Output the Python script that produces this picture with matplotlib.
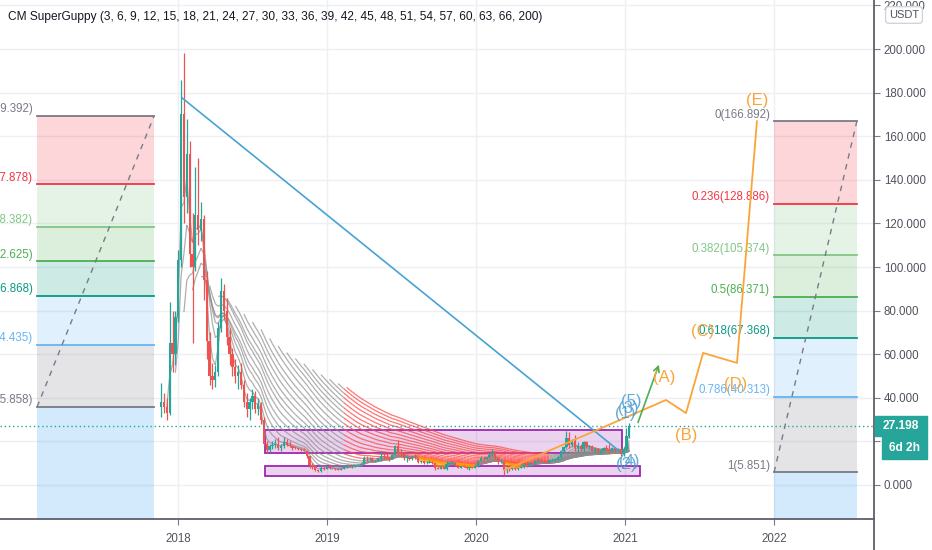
import matplotlib.pyplot as plt
import matplotlib.dates as mdates
import numpy as np
import pandas as pd
from matplotlib.collections import LineCollection
from matplotlib.patches import Rectangle
from matplotlib.lines import Line2D
from matplotlib.ticker import FormatStrFormatter

plt.rcParams['font.family'] = ['Liberation Sans', 'DejaVu Sans']

# weekly candles, first bar on 2017-11-20; open of each bar = previous close
first_week = '2017-11-20'
first_open = 36
closes = [
    38, 36, 33, 65, 60, 77, 103, 170, 132, 152,
    106, 100, 124, 117, 122, 94, 66, 50, 48, 52,
    72, 89, 80, 68, 60, 54, 50, 52, 46, 38,
    35, 38, 41, 35, 37, 30, 19, 16, 18, 18.5,
    19, 17, 18, 19.5, 18.5, 18, 17.2, 17, 16.5, 16.2,
    15.8, 13.2, 9, 8.5, 6.8, 6.2, 8, 7.4, 8.3, 7.6,
    7.6, 7.3, 7.1, 7.5, 8.1, 8.6, 8.5, 8.8, 9.0, 9.1,
    9.8, 12.5, 12.2, 12.6, 10.8, 11.2, 12.2, 13.5, 12.8, 12.6,
    11.9, 13.9, 18, 15, 14.3, 12.3, 12.6, 11.8, 12.8, 12.4,
    10.6, 10.9, 9.9, 10.3, 10.6, 10.1, 7.6, 7.5, 8.1, 7.5,
    9.6, 10.1, 10.2, 9.3, 8.0, 8.6, 8.3, 7.8, 8.1, 7.8,
    8.6, 11, 12.5, 11.8, 12.7, 13.9, 14.5, 12.5, 10.4, 10.7,
    6.8, 7.3, 7.2, 7.9, 7.5, 7.9, 8.2, 9.3, 9.1, 10,
    9.9, 11.2, 11.6, 10.8, 10.7, 10.5, 11.3, 11.4, 11.6, 12.9,
    15.6, 17.5, 21.5, 18.4, 20.1, 17.2, 17.9, 16.3, 19.6, 17.6,
    17.8, 15.8, 16.5, 14.9, 15.6, 16.8, 16.2, 15.7, 16.9, 15.9,
    16.3, 14.2, 16.4, 22.6, 27.198]
highs = [
    47, 42, 40, 84, 80, 80, 108, 186, 198, 168,
    158, 125, 146, 150, 130, 124, 98, 70, 56, 55,
    75, 95, 92, 86, 72, 63, 58, 55, 56, 48,
    42, 40, 44, 43, 40, 38, 31, 20, 19, 20,
    21, 22, 19, 22, 21, 20, 18.5, 18, 17.5, 17,
    17, 16, 13.5, 10, 8.8, 7, 8.5, 8.6, 8.5, 8.9,
    8, 7.8, 7.8, 7.6, 8.5, 9.6, 9, 9, 9.3, 9.5,
    10, 13.5, 13.2, 13, 13, 11.5, 13, 15.5, 14.5, 14,
    13, 14.5, 18.5, 20.5, 16.5, 15, 13, 13, 13.4, 14,
    12.5, 11.2, 11.1, 11, 11.3, 11, 10.2, 8.2, 8.4, 8.2,
    11, 10.6, 11, 10.4, 9.4, 8.9, 9, 8.5, 8.4, 8.4,
    8.8, 11.5, 13.4, 12.8, 13, 14.5, 16.5, 15.5, 12.9, 11.3,
    11, 7.8, 7.9, 8.2, 8.4, 8, 8.5, 9.8, 10.5, 10.3,
    10.5, 11.5, 12.4, 12, 11.4, 11.2, 11.6, 12.2, 12.2, 13.5,
    16, 18, 25, 24.5, 21, 23, 19.5, 18.8, 20, 20.2,
    18.5, 18.2, 17, 16.8, 16, 17.5, 18.3, 19, 17.5, 17,
    17.2, 16.8, 17.5, 26, 28.6]
lows = [
    31, 33, 30, 32, 52, 55, 75, 100, 120, 125,
    100, 65, 98, 110, 112, 85, 58, 46, 44, 45,
    50, 70, 76, 64, 55, 50, 47, 44, 44, 36,
    31, 30, 35, 33, 32, 28, 18, 14.7, 15, 16.5,
    17, 16, 15.5, 17, 18, 17.5, 16, 16.5, 16, 15.8,
    15.5, 12.5, 8, 7.5, 6.5, 5.85, 6, 7, 7.2, 7.2,
    7.3, 7, 6.8, 6.9, 7.3, 7.8, 8.1, 8, 8.4, 8.6,
    8.8, 9.7, 11.2, 11.5, 10.5, 10.4, 10.8, 11, 12, 11.8,
    11, 11.8, 13.5, 13.5, 13, 11.5, 10.5, 11.4, 11.6, 12,
    10, 10.2, 9.6, 9.7, 10, 9.8, 7, 7.2, 7.2, 7.3,
    7.1, 9.2, 9.6, 9.1, 7.6, 7.8, 8.1, 7.5, 7, 7.6,
    7.6, 8.4, 10.8, 11, 11.5, 12.3, 13, 11.8, 9.8, 9.9,
    4.8, 5.7, 6.5, 6.8, 7.1, 7, 7.6, 8, 8.3, 8.6,
    9.4, 9.3, 10.7, 10.4, 10.2, 9.9, 10.2, 11, 10.9, 11.4,
    11.8, 15, 17, 17, 17.5, 15.5, 15, 15.8, 15, 17,
    16.5, 15.4, 15, 14, 14.2, 15.3, 15.7, 14.5, 15.6, 15.3,
    15.6, 13.5, 13.2, 15.5, 21.5]
current_price = 27.198

guppy_fast = [3, 6, 9, 12, 15, 18, 21]
guppy_slow = [24, 27, 30, 33, 36, 39, 42, 45, 48, 51, 54, 57, 60, 63, 66]
guppy_long = [200]

# fib levels as printed on the chart (the 1.618 band runs off the bottom)
fib_ratios = ['0', '0.236', '0.382', '0.5', '0.618', '0.786', '1']
fib_colors = ['#787b86', '#f23645', '#81c784', '#4caf50', '#089981',
              '#64b5f6', '#787b86', '#2196f3']
left_fib_dates = ('2017-01-20', '2017-11-03')
left_fib_prices = [169.392, 137.878, 118.382, 102.625, 86.868, 64.435, 35.858]
right_fib_dates = ('2022-01-01', '2022-07-23')
right_fib_prices = [166.892, 128.886, 105.374, 86.371, 67.368, 40.313, 5.851]

trend_dates = ['2018-01-11', '2020-12-14']
trend_prices = [177.5, 16.1]

wave_dates = ['2020-03-12', '2021-04-11', '2021-05-30', '2021-07-11',
              '2021-10-02', '2021-11-20']
wave_prices = [6.9, 39.0, 33.0, 60.6, 56.0, 166.892]
wave_labels = [('(A)', '2021-04-06', 49.1), ('(B)', '2021-05-30', 22.5),
               ('(C)', '2021-07-09', 70.6), ('(D)', '2021-09-29', 45.9),
               ('(E)', '2021-11-20', 176.6)]
impulse_labels = [('(1)', '2020-12-31', 32.6), ('(3)', '2021-01-08', 35.3),
                  ('(5)', '2021-01-15', 38.5), ('(2)', '2021-01-03', 9.2),
                  ('(4)', '2021-01-10', 10.6)]
arrow_start = ('2021-01-30', 27.5)
arrow_end = ('2021-03-27', 56.4)

boxes = [('2018-08-02', '2020-12-24', 14.7, 25.2),
         ('2018-08-02', '2021-02-06', 4.1, 8.7)]

years = [2018, 2019, 2020, 2021, 2022]

d2n = mdates.datestr2num

fig = plt.figure(figsize=(9.32, 5.5), dpi=100)
ax = fig.add_axes([0, 31 / 550, 874 / 932, 519 / 550])

c = np.array(closes, dtype=float)
h = np.array(highs, dtype=float)
lo = np.array(lows, dtype=float)
o = np.r_[first_open, c[:-1]]
h = np.maximum(h, np.maximum(o, c))
lo = np.minimum(lo, np.minimum(o, c))
x = mdates.date2num(pd.date_range(first_week, periods=len(c), freq='7D'))


def pine_ema(src, n):
    out = np.full(len(src), np.nan)
    if len(src) >= n:
        out[n - 1] = src[:n].mean()
        a = 2 / (n + 1)
        for i in range(n, len(src)):
            out[i] = a * src[i] + (1 - a) * out[i - 1]
    return out


fast = np.array([pine_ema(c, n) for n in guppy_fast])
slow = np.array([pine_ema(c, n) for n in guppy_slow])
with np.errstate(invalid='ignore'):
    fast_up = np.all(fast[:-1] > fast[1:], axis=0)
    fast_dn = np.all(fast[:-1] < fast[1:], axis=0)
    slow_up = np.all(slow[:-1] > slow[1:], axis=0)
    slow_dn = np.all(slow[:-1] < slow[1:], axis=0)
col_fast = np.where(fast_up & slow_up, 'aqua', np.where(fast_dn & slow_dn, 'orange', 'gray'))
col_slow = np.where(slow_dn, 'red', np.where(slow_up, 'lime', 'gray'))
rgba = {'gray': (0.55, 0.55, 0.55, 0.7), 'red': (1.0, 0.3, 0.3, 0.8),
        'orange': (1.0, 0.6, 0.0, 0.8), 'aqua': (0.0, 0.74, 0.83, 0.8),
        'lime': (0.3, 0.69, 0.31, 0.8)}


def ribbon(lines, cols):
    for e in lines:
        segs, cs = [], []
        for i in range(1, len(e)):
            if np.isnan(e[i - 1]) or np.isnan(e[i]):
                continue
            segs.append([(x[i - 1], e[i - 1]), (x[i], e[i])])
            cs.append(rgba[cols[i]])
        if segs:
            ax.add_collection(LineCollection(segs, colors=cs, linewidths=0.9, zorder=2))


ribbon(slow, col_slow)
ribbon(fast, col_fast)
for n in guppy_long:
    ribbon([pine_ema(c, n)], col_slow)


def draw_fib(dates, prices):
    x0, x1 = d2n(dates[0]), d2n(dates[1])
    bands = prices + [-200]
    for k in range(1, len(bands)):
        ax.fill_between([x0, x1], bands[k - 1], bands[k], color=fib_colors[k],
                        alpha=0.2, lw=0, zorder=1)
    for r, p, col in zip(fib_ratios, prices, fib_colors):
        ax.plot([x0, x1], [p, p], color=col, lw=1.3, zorder=1.2)
        ax.annotate(f'{r}({p:.3f})', (x0, p), xytext=(-3, 0.5),
                    textcoords='offset points', ha='right', va='bottom',
                    color=col, fontsize=8.3)
    ax.plot([x0, x1], [prices[-1], prices[0]], color='#787b86', ls=(0, (4, 4)),
            lw=1, zorder=1.3)


draw_fib(left_fib_dates, left_fib_prices)
draw_fib(right_fib_dates, right_fib_prices)

for d0, d1, p_lo, p_hi in boxes:
    ax.add_patch(Rectangle((d2n(d0), p_lo), d2n(d1) - d2n(d0), p_hi - p_lo,
                           facecolor=(0.61, 0.15, 0.69, 0.2), edgecolor='#9c27b0',
                           lw=1.3, zorder=1.5))

# candles
up = c >= o
cc = np.where(up, '#26a69a', '#ef5350')
ax.vlines(x, lo, h, colors=cc, lw=0.9, zorder=3)
ax.bar(x, np.maximum(np.abs(c - o), 0.35), bottom=np.minimum(o, c), width=5.6,
       color=cc, lw=0, zorder=3.1)

ax.axhline(current_price, color='#26a69a', ls=(0, (1, 2)), lw=1, zorder=3.5)

ax.plot(d2n(trend_dates), trend_prices, color='#47a3d4', lw=1.2, zorder=4)
ax.plot(d2n(wave_dates), wave_prices, color='#f9a53a', lw=1.3, zorder=4)
ax.annotate('', xy=(d2n(arrow_end[0]), arrow_end[1]),
            xytext=(d2n(arrow_start[0]), arrow_start[1]),
            arrowprops=dict(arrowstyle='->', color='#4caf50', lw=1.2), zorder=4)
for t, d, p in wave_labels:
    ax.text(d2n(d), p, t, ha='center', va='center', fontsize=12,
            color='#f9a53a', zorder=5)
for t, d, p in impulse_labels:
    ax.text(d2n(d), p, t, ha='center', va='center', fontsize=12,
            color='#4a9ccc', alpha=0.85, zorder=5)

# axes
ax.set_xlim(d2n('2016-10-21'), d2n('2022-09-03'))
ax.set_ylim(-15.6, 222.5)
for s in ['left', 'top']:
    ax.spines[s].set_visible(False)
for s in ['right', 'bottom']:
    ax.spines[s].set_color('#5d606b')
    ax.spines[s].set_linewidth(1.3)
ax.yaxis.tick_right()
ax.set_yticks(np.arange(0, 221, 20))
ax.yaxis.set_major_formatter(FormatStrFormatter('%.3f'))
ax.set_xticks([d2n(f'{y}-01-01') for y in years])
ax.set_xticklabels([str(y) for y in years])
ax.tick_params(axis='both', colors='#787b86', labelcolor='#50535e',
               labelsize=8.3, length=4)
ax.tick_params(axis='y', pad=3)
ax.tick_params(axis='x', pad=6)
ax.grid(color='#eceff4', lw=1)
ax.set_axisbelow(True)

fig.add_artist(Line2D([874 / 932, 874 / 932], [0, 31 / 550], color='#5d606b', lw=1.3))

fig.text(8 / 932, 1 - 17 / 550,
         'CM SuperGuppy (' + ', '.join(str(n) for n in guppy_fast + guppy_slow + guppy_long) + ')',
         va='center', ha='left', fontsize=8.6, color='#131722')

fig.text(904 / 932, 1 - 15 / 550, 'USDT', ha='center', va='center', fontsize=8,
         color='#50535e',
         bbox=dict(boxstyle='round,pad=0.3', fc='white', ec='#d1d4dc', lw=1))

fig.add_artist(Rectangle((875 / 932, 1 - 436 / 550), 52 / 932, 20 / 550,
                         transform=fig.transFigure, color='#26a69a', zorder=5))
fig.text(901 / 932, 1 - 426 / 550, f'{current_price:.3f}', ha='center', va='center',
         fontsize=8.6, color='white', fontweight='bold', zorder=6)
fig.add_artist(Rectangle((882 / 932, 1 - 459 / 550), 45 / 932, 22 / 550,
                         transform=fig.transFigure, color='#26a69a', zorder=5))
fig.text(904.5 / 932, 1 - 448 / 550, '6d 2h', ha='center', va='center',
         fontsize=8.6, color='white', fontweight='bold', zorder=6)

fig.savefig('out.png', dpi=100)
